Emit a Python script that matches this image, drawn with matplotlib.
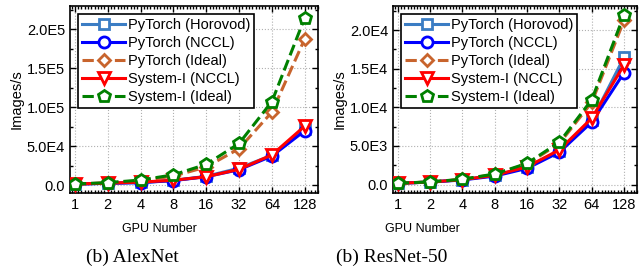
import matplotlib
matplotlib.use("Agg")
import matplotlib.pyplot as plt
from matplotlib.ticker import FuncFormatter, MultipleLocator
import numpy as np

plt.rcParams['font.family'] = ['Liberation Sans', 'DejaVu Sans']

gpus = ['1', '2', '4', '8', '16', '32', '64', '128']

# AlexNet throughput (images/s)
alex_horovod = [1500, 2600, 3600, 6200, 11500, 22000, 38500, 72000]
alex_nccl = [1470, 2500, 3400, 6000, 11000, 20000, 37500, 70000]
alex_pt_ideal = [1470, 2940, 5880, 11750, 23500, 47000, 94000, 188000]
alex_sys_nccl = [1700, 2800, 4000, 6500, 11000, 20500, 39000, 76000]
alex_sys_ideal = [1680, 3360, 6720, 13400, 26900, 53700, 107500, 215000]

# ResNet-50 throughput (images/s)
res_horovod = [167, 330, 640, 1200, 2250, 4400, 8300, 16500]
res_nccl = [167, 320, 600, 1100, 2100, 4200, 8100, 14500]
res_pt_ideal = [167, 333, 666, 1330, 2660, 5330, 10650, 21300]
res_sys_nccl = [170, 330, 640, 1200, 2300, 4500, 8600, 15500]
res_sys_ideal = [172, 344, 688, 1375, 2750, 5500, 11000, 22000]

labels = ['PyTorch (Horovod)', 'PyTorch (NCCL)', 'PyTorch (Ideal)',
          'System-I (NCCL)', 'System-I (Ideal)']
colors = ['#3b7dc4', '#0000ff', '#c8642d', '#ff0000', '#008000']
markers = ['s', 'o', 'D', 'v', 'p']
styles = ['-', '-', '--', '-', '--']
msizes = [7, 8, 6.5, 8.5, 9]


def sci_fmt(v, pos):
    if v == 0:
        return '0.0'
    e = int(np.floor(np.log10(abs(v))))
    m = v / 10 ** e
    return f'{m:.1f}E{e}'


def draw(ax, series, ymax, ystep, ymin):
    x = np.arange(len(gpus))
    for s, lab, c, m, ls, ms in zip(series, labels, colors, markers, styles, msizes):
        ax.plot(x, s, ls=ls, color=c, marker=m, ms=ms, mfc='white', mec=c,
                mew=2, lw=2.2, label=lab, zorder=3)
    ax.set_xticks(x)
    ax.set_xticklabels(gpus)
    ax.set_xlim(-0.15, 7.4)
    ax.set_ylim(ymin, ymax)
    ax.yaxis.set_major_locator(MultipleLocator(ystep))
    ax.yaxis.set_minor_locator(MultipleLocator(ystep / 2))
    ax.xaxis.set_minor_locator(MultipleLocator(0.1))
    ax.yaxis.set_major_formatter(FuncFormatter(sci_fmt))
    ax.tick_params(which='both', direction='in', top=True, right=True,
                   labelsize=10.5, width=1)
    ax.tick_params(which='major', length=4)
    ax.tick_params(which='minor', length=2)
    ax.grid(True, which='major', ls=':', color='#b0b0b0', lw=0.8)
    for sp in ax.spines.values():
        sp.set_linewidth(1.2)
    ax.set_ylabel('Images/s', fontsize=10.5, labelpad=2)
    leg = ax.legend(loc='upper left', fontsize=10.5, frameon=True, fancybox=False,
                    edgecolor='black', framealpha=1, handlelength=2.9,
                    borderpad=0.3, labelspacing=0.26, handletextpad=0.2,
                    borderaxespad=0.55)
    leg.get_frame().set_linewidth(1.2)


fig = plt.figure(figsize=(6.39, 2.77), dpi=100)
ax1 = fig.add_axes([0.1095, 0.303, 0.388, 0.675])
ax2 = fig.add_axes([0.615, 0.303, 0.382, 0.675])

draw(ax1, [alex_horovod, alex_nccl, alex_pt_ideal, alex_sys_nccl, alex_sys_ideal],
     2.3e5, 5e4, -1e4)
draw(ax2, [res_horovod, res_nccl, res_pt_ideal, res_sys_nccl, res_sys_ideal],
     2.31e4, 5e3, -1.1e3)

fig.text(159 / 639, 1 - 229 / 277, 'GPU Number', ha='center', va='center', fontsize=9)
fig.text(422 / 639, 1 - 229 / 277, 'GPU Number', ha='center', va='center', fontsize=9)
fig.text(132 / 639, 1 - 257 / 277, '(b) AlexNet', ha='center', va='center',
         fontsize=14, family='Liberation Serif')
fig.text(392 / 639, 1 - 257 / 277, '(b) ResNet-50', ha='center', va='center',
         fontsize=14, family='Liberation Serif')

fig.savefig('out.png', dpi=100)
